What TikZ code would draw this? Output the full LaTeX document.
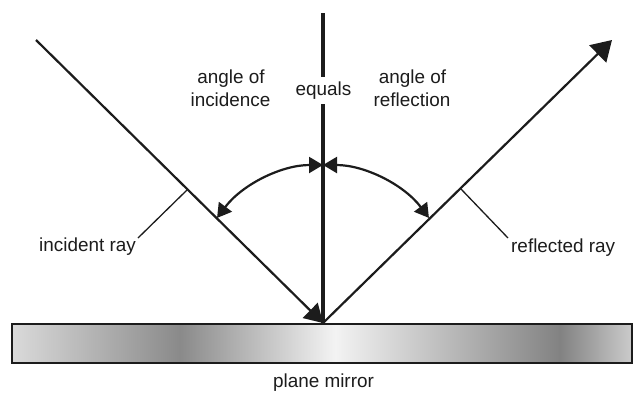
\documentclass[tikz,border=0pt]{standalone}
\usepackage{fontspec}
\setmainfont{Liberation Sans}
\usetikzlibrary{arrows.meta}
\definecolor{ink}{RGB}{28,28,28}
\definecolor{m0}{RGB}{218,218,218}
\definecolor{m1}{RGB}{138,138,138}
\definecolor{m2}{RGB}{243,243,243}
\definecolor{m3}{RGB}{130,130,130}
\definecolor{m4}{RGB}{203,203,203}
\pgfdeclarehorizontalshading{mirrorshade}{100bp}{color(0bp)=(m0); color(25bp)=(m0); color(38.55bp)=(m1); color(51.05bp)=(m2); color(69.19bp)=(m3); color(75bp)=(m4); color(100bp)=(m4)}
\begin{document}
\begin{tikzpicture}[x=1pt,y=-1pt,
  rayline/.style={draw=ink,line width=2.2pt},
  normalline/.style={draw=ink,line width=4.5pt},
  tickline/.style={draw=ink,line width=1.3pt},
  arcline/.style={draw=ink,line width=2.2pt},
  lbl/.style={font=\fontsize{18.9}{24}\selectfont, text=ink, inner sep=0pt},
  smalltip/.tip={Triangle[length=14pt,width=16pt]}]
\useasboundingbox (0,0) rectangle (633,392);
\fill[white] (0,0) rectangle (633,392);
% mirror
\shade[shading=mirrorshade] (12,324) rectangle (632,363);
\draw[ink,line width=2pt] (12,324) rectangle (632,363);
% key points
\coordinate (P) at (323,323);
\coordinate (inStart) at (36,40);
\coordinate (reEnd) at (612,40);
\coordinate (nTop) at (323,13);
\coordinate (C) at (323,297.5);
\coordinate (t1a) at (138,238);
\coordinate (t1b) at (187,190);
\coordinate (t2a) at (461,189);
\coordinate (t2b) at (508,238);
% labels
\node[lbl, fill=white, inner ysep=4.8pt, inner xsep=2pt, anchor=base] (eq) at (323.5,95.3) {equals};
\node[lbl, anchor=base] (ai1) at (231,83.5) {angle of};
\node[lbl, anchor=base] (ai2) at (230.5,106.5) {incidence};
\node[lbl, anchor=base] (ar1) at (412.5,83.5) {angle of};
\node[lbl, anchor=base] (ar2) at (412,106.5) {reflection};
\node[lbl, anchor=base west] (inc) at (39,251.5) {incident ray};
\node[lbl, anchor=base west] (refl) at (511,252) {reflected ray};
\node[lbl, anchor=base] (pm) at (323.5,387.5) {plane mirror};
% normal
\draw[normalline] (nTop) -- (nTop |- eq.north);
\draw[normalline] (nTop |- eq.south) -- (P);
% rays
\draw[rayline, -{Triangle[length=18pt,width=21pt]}] (inStart) -- (P);
\draw[rayline, -{Triangle[length=20pt,width=24pt]}] (P) -- (reEnd);
% ticks
\draw[tickline] (t1a) -- (t1b);
\draw[tickline] (t2a) -- (t2b);
% angle arcs
\draw[arcline, smalltip-smalltip] (C) ++(216.9:132.5) arc[start angle=216.9, end angle=270, radius=132.5];
\draw[arcline, smalltip-smalltip] (C) ++(270:132.5) arc[start angle=270, end angle=323.1, radius=132.5];
\end{tikzpicture}
\end{document}
